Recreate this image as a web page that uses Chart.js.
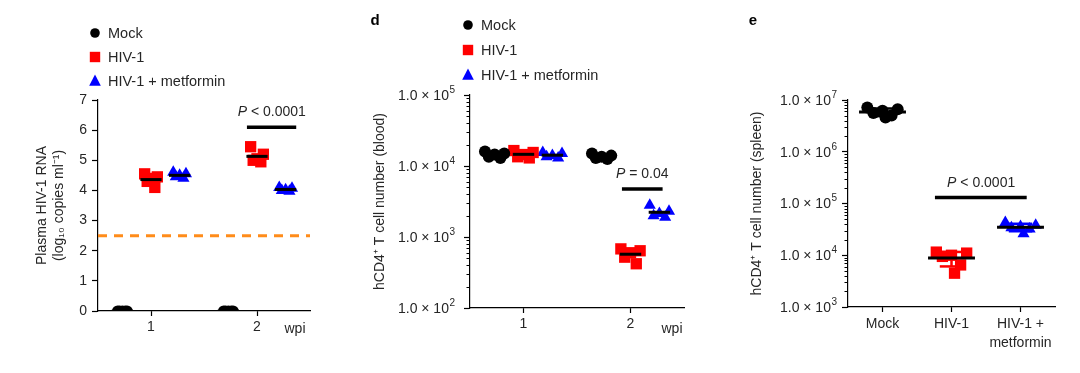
<!DOCTYPE html>
<html>
<head>
<meta charset="utf-8">
<script src="https://cdn.jsdelivr.net/npm/chart.js"></script>
<style>
  body { margin: 0; background: #fff; width: 1080px; height: 373px; position: relative; overflow: hidden; }
  canvas { position: absolute; top: 0; }
</style>
</head>
<body>
<canvas id="panelC" width="330" height="373" style="left:0"></canvas>
<canvas id="panelD" width="370" height="373" style="left:330px"></canvas>
<canvas id="panelE" width="380" height="373" style="left:700px"></canvas>
<script>
const FONT = "'Liberation Sans', Arial, sans-serif";
const INK = '#262626';

// groups
const groupNames = ['Mock', 'HIV-1', 'HIV-1 + metformin'];
const groupColors = ['#000000', '#ff0000', '#0000ff'];
const groupStyles = ['circle', 'rect', 'triangle'];

// c: plasma HIV-1 RNA (log10 copies/ml), one list per week
const weekTicks = [1, 2];
const weekLabels = ['1', '2'];
const rnaMock = [[0, 0, 0, 0, 0], [0, 0, 0, 0, 0]];
const rnaHiv = [[4.55, 4.45, 4.4, 4.3, 4.1], [5.45, 5.2, 5.05, 5.0, 4.95]];
const rnaMet = [[4.6, 4.55, 4.5, 4.45, 4.4], [4.1, 4.07, 4.02, 4.0, 3.97]];
const rnaLimit = 2.5;
const rnaTicks = [0, 1, 2, 3, 4, 5, 6, 7];

// d: hCD4+ T cells in blood, one list per week
const bloodMock = [[16000, 15000, 14500, 13500, 13000], [15000, 14000, 13500, 13000, 12500]];
const bloodHiv = [[16500, 15500, 14500, 13500, 13000], [680, 640, 600, 520, 420]];
const bloodMet = [[15500, 15000, 14000, 13500, 13000], [2800, 2300, 2150, 2000, 1900]];
const bloodTicks = [1e2, 1e3, 1e4, 1e5];

// e: hCD4+ T cells in spleen
const spleenLabels = ['Mock', 'HIV-1', ['HIV-1 +', 'metformin']];
const spleenMock = [7.2e6, 6.6e6, 6.2e6, 5.6e6, 5.0e6, 4.6e6];
const spleenHiv = [11500, 11000, 10000, 9500, 6500, 4500];
const spleenMet = [43000, 38000, 36000, 34000, 32000, 26000];
const spleenTicks = [1e3, 1e4, 1e5, 1e6, 1e7];

const pValues = ['< 0.0001', '= 0.04', '< 0.0001'];

// ---- helpers ----
const groupOffsets = [-0.27, 0, 0.27];
const jit = [-1, 1, 0, -0.6, 0.6, 0.2];
const mean = a => a.reduce((s, v) => s + v, 0) / a.length;
const sd = a => { const m = mean(a); return Math.sqrt(a.reduce((s, v) => s + (v - m) * (v - m), 0) / (a.length - 1)); };
const points = (vals, c, spread) => vals.map((v, i) => ({ x: c + jit[i % jit.length] * spread, y: v }));
const hline = (y, x0, x1) => [{ x: x0, y }, { x: x1, y }];

function scatterSet(g, data, r) {
  return {
    type: 'scatter', label: groupNames[g], data, order: 2,
    pointStyle: groupStyles[g], pointRadius: r[g], pointHoverRadius: r[g],
    backgroundColor: groupColors[g], borderWidth: 0
  };
}
function lineSet(data, color, width, dash, order) {
  return {
    type: 'line', label: '', data, order: order === undefined ? 0 : order, borderColor: color, borderWidth: width,
    borderDash: dash || [], pointRadius: 0, fill: false, tension: 0, borderCapStyle: 'butt', spanGaps: false
  };
}

function xAxis(min, max, ticks, labels, height, lineHeight) {
  return {
    type: 'linear', min, max,
    afterBuildTicks: s => { s.ticks = ticks.map(v => ({ value: v })); },
    afterFit: s => { s.height = height; },
    ticks: { callback: (v, i) => labels[i], color: INK, padding: 3, maxRotation: 0,
      font: { family: FONT, size: 14, lineHeight: lineHeight || 1.2 } },
    grid: { drawOnChartArea: false, tickLength: 5, tickColor: '#000', tickWidth: 1.2 },
    border: { color: '#000', width: 1.2 }
  };
}
function yAxis(type, min, max, ticks, fmt, width, pad, title, titlePad, hideLabels) {
  return {
    type, min, max,
    afterBuildTicks: s => { s.ticks = ticks.map(v => ({ value: v })); },
    afterFit: s => { s.width = width; },
    ticks: { callback: v => fmt(v), color: hideLabels ? 'rgba(0,0,0,0)' : INK, padding: pad,
      font: { family: FONT, size: 14 } },
    grid: { drawOnChartArea: false, tickLength: 6, tickColor: '#000', tickWidth: 1.2 },
    border: { color: '#000', width: 1.2 },
    title: { display: true, text: title, color: INK, padding: { top: titlePad, bottom: 0 },
      font: { family: FONT, size: 14 } }
  };
}

function marker(ctx, style, x, y, r) {
  ctx.beginPath();
  if (style === 'circle') ctx.arc(x, y, r, 0, Math.PI * 2);
  else if (style === 'rect') ctx.rect(x - r, y - r, 2 * r, 2 * r);
  else { ctx.moveTo(x, y - r * 1.1); ctx.lineTo(x + r, y + r * 0.8); ctx.lineTo(x - r, y + r * 0.8); ctx.closePath(); }
  ctx.fill();
}

function decor(cfg) {
  return {
    id: 'decor',
    afterDatasetsDraw(chart) {
      const ctx = chart.ctx, xs = chart.scales.x, ys = chart.scales.y;
      ctx.save();
      if (ys.type === 'logarithmic') {
        // minor ticks
        ctx.strokeStyle = '#000'; ctx.lineWidth = 1;
        const e0 = Math.round(Math.log10(ys.min)), e1 = Math.round(Math.log10(ys.max));
        for (let e = e0; e < e1; e++) {
          for (let k = 2; k <= 9; k++) {
            const py = Math.round(ys.getPixelForValue(k * Math.pow(10, e))) + 0.5;
            ctx.beginPath(); ctx.moveTo(ys.right - 3.5, py); ctx.lineTo(ys.right, py); ctx.stroke();
          }
        }
        // tick labels with real superscripts
        ctx.fillStyle = INK; ctx.textBaseline = 'middle'; ctx.textAlign = 'right';
        const xr = ys.right - 6 - cfg.labelPad;
        ys.ticks.forEach(t => {
          const py = ys.getPixelForValue(t.value);
          const ex = String(Math.round(Math.log10(t.value)));
          ctx.font = '10px ' + FONT;
          const we = ctx.measureText(ex).width;
          ctx.fillText(ex, xr, py - 5);
          ctx.font = '14px ' + FONT;
          ctx.fillText('1.0 × 10', xr - we - 0.5, py + 1);
        });
      }
      if (cfg.legend) {
        const L = cfg.legend;
        groupNames.forEach((name, g) => {
          const y = L.y + g * L.dy;
          ctx.fillStyle = groupColors[g];
          marker(ctx, groupStyles[g], L.x, y, [4.8, 5.2, 5.8][g]);
          ctx.fillStyle = INK; ctx.font = '14.5px ' + FONT;
          ctx.textAlign = 'left'; ctx.textBaseline = 'middle';
          ctx.fillText(name, L.x + 13, y + 1);
        });
      }
      if (cfg.p) {
        const cx = xs.getPixelForValue(cfg.p.x), cy = ys.getPixelForValue(cfg.p.y) - 11;
        ctx.textBaseline = 'alphabetic'; ctx.textAlign = 'left'; ctx.fillStyle = INK;
        ctx.font = 'italic 14px ' + FONT;
        const wp = ctx.measureText('P').width;
        ctx.font = '14px ' + FONT;
        const rest = ' ' + cfg.p.text;
        const w = wp + ctx.measureText(rest).width;
        ctx.font = 'italic 14px ' + FONT;
        ctx.fillText('P', cx - w / 2, cy);
        ctx.font = '14px ' + FONT;
        ctx.fillText(rest, cx - w / 2 + wp, cy);
      }
      (cfg.texts || []).forEach(t => {
        ctx.fillStyle = t.color || INK; ctx.font = t.font;
        ctx.textAlign = 'center'; ctx.textBaseline = 'middle';
        ctx.fillText(t.text, t.x, t.y);
      });
      ctx.restore();
    }
  };
}

function makeChart(id, datasets, scales, padding, cfg) {
  return new Chart(document.getElementById(id), {
    data: { datasets },
    options: {
      responsive: false, animation: false, events: [],
      layout: { padding },
      plugins: { legend: { display: false }, tooltip: { enabled: false } },
      scales
    },
    plugins: [decor(cfg)]
  });
}

// ---- panel c ----
const cSets = [];
[rnaMock, rnaHiv, rnaMet].forEach((byWeek, g) => {
  const pts = [];
  byWeek.forEach((vals, w) => {
    const c = weekTicks[w] + groupOffsets[g];
    pts.push(...points(vals, c, g === 0 ? 0.045 : 0.06));
    cSets.push(lineSet(hline(mean(vals), c - 0.1, c + 0.1), '#000', 3));
  });
  cSets.push(scatterSet(g, pts, [5.5, 8, 7]));
});
cSets.push(lineSet(hline(rnaLimit, 0.5, 2.5), '#ff8c1a', 3, [9, 7]));
cSets.push(lineSet(hline(6.1, 1.905, 2.37), '#000', 3.5));
makeChart('panelC', cSets, {
  x: xAxis(0.5, 2.5, weekTicks, weekLabels, 62),
  y: yAxis('linear', 0, 7, rnaTicks, v => String(v), 98, 5,
    ['Plasma HIV-1 RNA', '(log₁₀ copies ml⁻¹)'], 34, false)
}, { top: 100, right: 20, left: 0, bottom: 0 }, {
  legend: { x: 95, y: 33, dy: 24 },
  p: { x: 2.14, y: 6.1, text: pValues[0] },
  texts: [{ text: 'wpi', x: 295, y: 329, font: '14px ' + FONT }]
});

// ---- panel d ----
const dSets = [];
[bloodMock, bloodHiv, bloodMet].forEach((byWeek, g) => {
  const pts = [];
  byWeek.forEach((vals, w) => {
    const c = weekTicks[w] + groupOffsets[g];
    pts.push(...points(vals, c, 0.09));
    dSets.push(lineSet(hline(mean(vals), c - 0.1, c + 0.1), '#000', 3));
  });
  dSets.push(scatterSet(g, pts, [6, 8, 7]));
});
dSets.push(lineSet(hline(4750, 1.92, 2.3), '#000', 3.5));
makeChart('panelD', dSets, {
  x: xAxis(0.5, 2.5, weekTicks, weekLabels, 65),
  y: yAxis('logarithmic', 1e2, 1e5, bloodTicks, v => '1.0 × 10' + Math.round(Math.log10(v)), 140, 8,
    'hCD4⁺ T cell number (blood)', 42, true)
}, { top: 95, right: 16, left: 0, bottom: 0 }, {
  labelPad: 9,
  legend: { x: 138, y: 25, dy: 25 },
  p: { x: 2.11, y: 4750, text: pValues[1] },
  texts: [
    { text: 'wpi', x: 342, y: 329, font: '14px ' + FONT },
    { text: 'd', x: 45, y: 21, font: 'bold 15px ' + FONT, color: '#000' }
  ]
});

// ---- panel e ----
const eSets = [];
[spleenMock, spleenHiv, spleenMet].forEach((vals, g) => {
  const c = g + 1, m = mean(vals), s = sd(vals);
  eSets.push(lineSet(hline(m, c - 0.34, c + 0.34), '#000', 3));
  // SD error bar
  eSets.push(lineSet([{ x: c, y: m - s }, { x: c, y: m + s }], groupColors[g], 2.5, null, 1));
  eSets.push(lineSet(hline(m + s, c - 0.17, c + 0.17), groupColors[g], 2.5, null, 1));
  eSets.push(lineSet(hline(m - s, c - 0.17, c + 0.17), groupColors[g], 2.5, null, 1));
  eSets.push(scatterSet(g, points(vals, c, 0.22), [6, 8, 7]));
});
eSets.push(lineSet(hline(1.3e5, 1.76, 3.09), '#000', 3.5));
makeChart('panelE', eSets, {
  x: xAxis(0.5, 3.5, [1, 2, 3], spleenLabels, 66, 1.35),
  y: yAxis('logarithmic', 1e3, 1e7, spleenTicks, v => '1.0 × 10' + Math.round(Math.log10(v)), 148, 5,
    'hCD4⁺ T cell number (spleen)', 49, true)
}, { top: 100, right: 25, left: 0, bottom: 0 }, {
  labelPad: 5,
  p: { x: 2.43, y: 1.3e5, text: pValues[2] },
  texts: [{ text: 'e', x: 53, y: 21, font: 'bold 15px ' + FONT, color: '#000' }]
});
</script>
</body>
</html>
